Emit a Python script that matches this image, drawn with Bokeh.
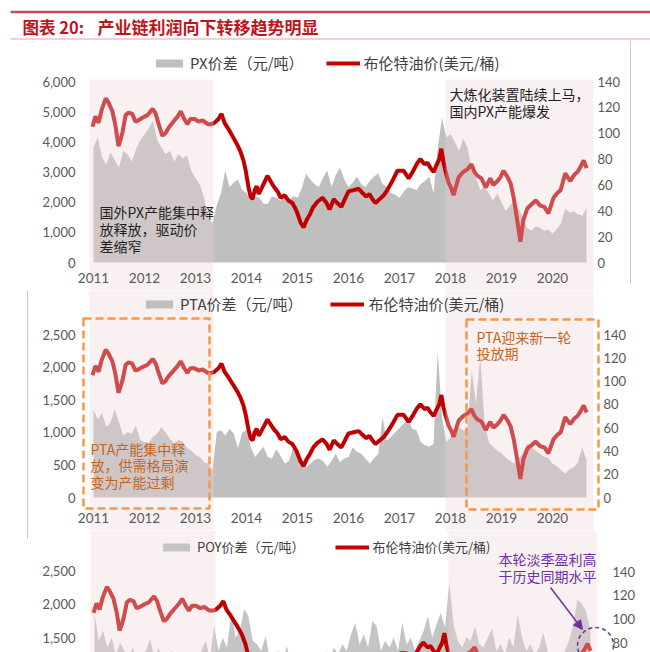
from bokeh.plotting import figure
from bokeh.layouts import column
from bokeh.models import Range1d, LinearAxis, FixedTicker, Legend, LegendItem, Arrow, NormalHead
from bokeh.core.properties import value
from bokeh.embed import file_html
from bokeh.resources import INLINE

# ---------------- data ----------------
year_labels = [2011, 2012, 2013, 2014, 2015, 2016, 2017, 2018, 2019, 2020]
month_t = [2011 + i / 12 for i in range(117)]  # monthly, 2011-01 .. 2020-09

px_spread = [3800, 4150, 3500, 3250, 3650, 3400, 3150, 3700, 3600, 3350, 3750, 4050,
             4250, 4450, 4700, 4050, 3800, 3600, 3700, 3350, 3600, 3450, 3550, 3050,
             2800, 2600, 2150, 1500, 1300, 1900, 2300, 3050, 2500, 2650, 2750, 2400,
             2300, 2050, 2200, 2150, 1950, 1950, 2200, 2150, 2050, 2250, 2050, 2200,
             2150, 2450, 2950, 2750, 2600, 2500, 2800, 3050, 2500, 2900, 3150, 2750,
             2500, 2650, 2850, 2600, 2500, 2700, 2850, 2950, 2600, 2500, 2300, 2250,
             2150, 2350, 2500, 2450, 2400, 2600, 2700, 2850, 2300, 3800, 4800, 4150,
             4250, 4000, 3700, 4100, 3800, 3100, 2800, 2400, 2500, 2300, 2050, 2300,
             2000, 1700, 1900, 2050, 1800, 1500, 1150, 1050, 1200, 1150, 1050, 1100,
             950, 1100, 1300, 1800, 1650, 1700, 1600, 1550, 1800]

pta_spread = [1350, 1200, 1300, 1080, 1150, 1350, 1150, 950, 1000, 980, 1100, 880,
              850, 840, 930, 980, 1080, 990, 900, 830, 880, 860, 760, 720,
              650, 620, 540, 520, 420, 1000, 1030, 950, 1050, 980, 760, 1000,
              1030, 780, 620, 700, 780, 620, 600, 740, 640, 520, 560, 770,
              650, 560, 460, 520, 580, 600, 560, 470, 560, 670, 540, 600,
              620, 770, 700, 670, 600, 520, 600, 670, 1230, 870, 930, 1000,
              1070, 1130, 1200, 1050, 1030, 850, 800, 780, 820, 2250, 1230, 850,
              920, 1000, 1070, 1030, 1050, 1950, 1450, 2150, 1150, 850, 780, 720,
              680, 610, 560, 520, 600, 670, 830, 780, 720, 670, 630, 610,
              520, 480, 420, 370, 430, 460, 540, 770, 570]

poy_spread = [1870, 1450, 1600, 1350, 1500, 1250, 1420, 1300, 1200, 1350, 1150, 1250,
              1300, 1480, 1200, 1350, 1100, 1250, 1300, 1150, 1200, 1000, 1150, 1250,
              1100, 1300, 1450, 1200, 1670, 1300, 1500, 1350, 1870, 1500, 1600, 1930,
              1820, 1450, 1400, 1300, 1520, 1200, 1250, 1300, 1150, 1370, 1100, 1000,
              1200, 1050, 1150, 1250, 1100, 1200, 1300, 1150, 1350, 1250, 1400, 1300,
              1550, 1720, 1400, 1550, 1350, 1750, 1670, 1300, 1450, 1350, 1500, 1300,
              1720, 1400, 1500, 1300, 1450, 1600, 1820, 1500, 1700, 1870, 1650, 2340,
              1700, 1450, 1350, 1500, 1450, 1670, 1400, 1350, 1500, 1630, 1300, 1400,
              1250, 1500, 1350, 1850, 1500, 1300, 1400, 1250, 1350, 1570, 1300, 1150,
              1200, 1100, 1300, 1450, 1700, 2070, 2000, 1900, 1600]

oil_t = [2010.98, 2011.04, 2011.10, 2011.16, 2011.24, 2011.29, 2011.37, 2011.43, 2011.49, 2011.53,
         2011.57, 2011.63, 2011.69, 2011.76, 2011.82, 2011.88, 2011.96, 2012.06, 2012.16, 2012.22,
         2012.27, 2012.35, 2012.41, 2012.47, 2012.57, 2012.65, 2012.71, 2012.78, 2012.84, 2012.90,
         2012.98, 2013.06, 2013.14, 2013.24, 2013.31, 2013.37, 2013.45, 2013.51, 2013.57, 2013.65,
         2013.75, 2013.82, 2013.88, 2013.94, 2013.98, 2014.04, 2014.08, 2014.12, 2014.16, 2014.20,
         2014.24, 2014.29, 2014.35, 2014.41, 2014.47, 2014.53, 2014.61, 2014.67, 2014.75, 2014.82,
         2014.90, 2014.98, 2015.06, 2015.12, 2015.18, 2015.24, 2015.31, 2015.39, 2015.49, 2015.57,
         2015.63, 2015.71, 2015.78, 2015.86, 2015.94, 2016.00, 2016.10, 2016.20, 2016.27, 2016.35,
         2016.41, 2016.47, 2016.53, 2016.61, 2016.69, 2016.76, 2016.86, 2016.96, 2017.08, 2017.18,
         2017.27, 2017.35, 2017.41, 2017.49, 2017.55, 2017.61, 2017.67, 2017.72, 2017.78, 2017.82,
         2017.86, 2017.90, 2017.96, 2018.02, 2018.06, 2018.16, 2018.25, 2018.33, 2018.41, 2018.47,
         2018.53, 2018.61, 2018.69, 2018.78, 2018.84, 2018.92, 2018.98, 2019.04, 2019.12, 2019.18,
         2019.24, 2019.31, 2019.37, 2019.43, 2019.51, 2019.59, 2019.67, 2019.76, 2019.84, 2019.92,
         2020.02, 2020.10, 2020.16, 2020.25, 2020.35, 2020.43, 2020.49, 2020.55, 2020.61, 2020.67]
oil_v = [105, 113, 108, 118, 127, 124, 117, 106, 90, 95,
         101, 114, 116, 115, 109, 110, 112, 114, 119, 115,
         108, 98, 100, 104, 109, 113, 117, 111, 107, 111,
         111, 109, 110, 107, 107, 108, 111, 115, 108, 103,
         96, 91, 86, 79, 72, 58, 51, 49, 56, 59,
         53, 57, 62, 67, 63, 59, 55, 50, 52, 48,
         46, 40, 31, 27, 33, 37, 43, 47, 50, 46,
         41, 49, 46, 43, 50, 55, 56, 57, 54, 51,
         53, 49, 46, 49, 52, 56, 63, 71, 71, 65,
         71, 77, 80, 76, 77, 73, 70, 75, 80, 88,
         78, 71, 62, 57, 52, 66, 70, 72, 76, 70,
         67, 65, 58, 65, 60, 63, 66, 71, 66, 61,
         50, 32, 16, 33, 42, 45, 48, 44, 43, 38,
         50, 54, 56, 69, 63, 68, 70, 74, 79, 73]

px_ticks = [0, 1000, 2000, 3000, 4000, 5000, 6000]
pta_ticks = [0, 500, 1000, 1500, 2000, 2500]
poy_ticks = [1500, 2000, 2500]
oil_ticks = [0, 20, 40, 60, 80, 100, 120, 140]

# ---------------- styling ----------------
W = 650
CJK = "Noto Sans CJK SC"
NUM = "Lato"
GRAY = "#bfbfbf"
RED = "#c00000"
PINK = "#eed8d8"
ORANGE = "#f79646"
BROWN = "#c0661e"
PURPLE = "#7030a0"
AX = "#595959"
EDGE = "#c8c8c8"


def xr(xpix, x0=93.0, ppy=51.0):
    return 2011 + (xpix - x0) / ppy


def yv(ypix, zero, per):
    return (zero - ypix) * per


def style_axis(ax, ticks, standoff):
    ax.ticker = FixedTicker(ticks=ticks)
    ax.major_label_overrides = {t: f"{t:,}" for t in ticks}
    ax.axis_line_color = None
    ax.major_tick_line_color = None
    ax.minor_tick_line_color = None
    ax.major_tick_out = 0
    ax.major_tick_in = 0
    ax.major_label_standoff = standoff
    ax.major_label_text_font = NUM
    ax.major_label_text_font_size = "13px"
    ax.major_label_text_color = AX


def make_panel(top, bot, zero_l, per_l, zero_r, per_r, right_x, x0, ppy,
               lticks, rticks, year_standoff=None):
    p = figure(width=W, height=bot - top, title=None,
               x_range=Range1d(xr(0, x0, ppy), xr(W, x0, ppy)),
               y_range=Range1d(yv(bot, zero_l, per_l), yv(top, zero_l, per_l)),
               output_backend="svg", toolbar_location=None,
               x_axis_location="below" if year_standoff is not None else None,
               min_border=0, min_border_left=0, min_border_right=0,
               min_border_top=0, min_border_bottom=0)
    p.extra_y_ranges = {"oil": Range1d(yv(bot, zero_r, per_r), yv(top, zero_r, per_r))}
    p.add_layout(LinearAxis(y_range_name="oil"), "right")
    left, right = p.yaxis[0], p.yaxis[1]
    style_axis(left, lticks, 5)
    left.fixed_location = xr(80, x0, ppy)
    style_axis(right, rticks, 4)
    right.fixed_location = xr(right_x, x0, ppy)
    if year_standoff is not None:
        xa = p.xaxis[0]
        style_axis(xa, year_labels, year_standoff)
        xa.major_label_overrides = {y: str(y) for y in year_labels}
        xa.major_label_text_font_size = "13.5px"
        xa.fixed_location = 0
    p.grid.visible = False
    p.outline_line_color = None
    p.background_fill_color = "white"
    p.border_fill_color = "white"
    return p


def add_legend(p, renderers, labels, loc, fs, spacing):
    leg = Legend(items=[LegendItem(label=l, renderers=[r]) for l, r in zip(labels, renderers)],
                 orientation="horizontal", location=loc, border_line_color=None,
                 background_fill_alpha=0, padding=0, margin=0, spacing=spacing,
                 glyph_width=34, glyph_height=10, label_standoff=4,
                 label_text_font=CJK, label_text_font_size=fs, label_text_color="#404040")
    p.add_layout(leg)


def note(p, xpix, ypix, zero, per, txt, color, lh, x0=93.0, ppy=51.0):
    p.text(x=[xr(xpix, x0, ppy)], y=[yv(ypix, zero, per)], text=[txt],
           text_baseline="top", text_font=value(CJK), text_font_size="14px",
           text_line_height=lh, text_color=color)


# ---------------- title ----------------
t = figure(width=W, height=46, title=None, x_range=Range1d(0, W), y_range=Range1d(46, 0),
           output_backend="svg", toolbar_location=None, x_axis_location=None,
           y_axis_location=None, min_border=0, min_border_left=0, min_border_right=0,
           min_border_top=0, min_border_bottom=0)
t.grid.visible = False
t.outline_line_color = None
t.segment(x0=[10], y0=[11.5], x1=[W], y1=[11.5], line_color="#c0504d", line_width=2.5)
t.segment(x0=[10], y0=[38.5], x1=[W], y1=[38.5], line_color="#e3a3a3", line_width=1)
t.segment(x0=[630], y0=[40], x1=[630], y1=[46], line_color=EDGE, line_width=1)
t.text(x=[22], y=[26], text=["图表 20:"], text_baseline="middle", text_font=value(CJK),
       text_font_size="16.5px", text_font_style="bold", text_color="#c0141c")
t.text(x=[97], y=[26], text=["产业链利润向下转移趋势明显"], text_baseline="middle",
       text_font=value(CJK), text_font_size="17px", text_font_style="bold", text_color="#c0141c")

# ---------------- panel 1: PX ----------------
Z1, L1, R1 = 262, 6000 / 181, 140 / 181
p1 = make_panel(46, 290, Z1, L1, Z1, R1, 593, 93, 51, px_ticks, oil_ticks, year_standoff=10)
a1 = p1.varea(x=month_t, y1=0, y2=px_spread, fill_color=GRAY)
l1 = p1.line(x=oil_t, y=oil_v, y_range_name="oil", line_color=RED, line_width=4)
p1.quad(left=[xr(89), xr(445)], right=[xr(213), xr(593)], bottom=yv(290, Z1, L1),
        top=yv(79, Z1, L1), fill_color=PINK, fill_alpha=0.35, line_color=None)
p1.segment(x0=[xr(630)], y0=[yv(46, Z1, L1)], x1=[xr(630)], y1=[yv(283, Z1, L1)],
           line_color=EDGE, line_width=1)
note(p1, 99, 201, Z1, L1, "国外PX产能集中释\n放释放，驱动价\n差缩窄", "#1f1f1f", 0.86)
note(p1, 449, 83, Z1, L1, "大炼化装置陆续上马，\n国内PX产能爆发", "#1f1f1f", 0.89)
add_legend(p1, [a1, l1], ["PX价差（元/吨）", "布伦特油价(美元/桶)"], (152, 217), "15px", 22)

# ---------------- panel 2: PTA ----------------
Z2, L2, R2 = 497, 2500 / 163, 140 / 163
p2 = make_panel(290, 530, Z2, L2, Z2, R2, 599, 93, 51, pta_ticks, oil_ticks, year_standoff=15)
a2 = p2.varea(x=month_t, y1=0, y2=pta_spread, fill_color=GRAY)
l2 = p2.line(x=oil_t, y=oil_v, y_range_name="oil", line_color=RED, line_width=4)
p2.quad(left=[xr(89), xr(445)], right=[xr(213), xr(593)], bottom=yv(530, Z2, L2),
        top=yv(290, Z2, L2), fill_color=PINK, fill_alpha=0.35, line_color=None)
p2.segment(x0=[xr(27)], y0=[yv(290, Z2, L2)], x1=[xr(27)], y1=[yv(530, Z2, L2)],
           line_color=EDGE, line_width=1)
p2.quad(left=[xr(83), xr(466)], right=[xr(209), xr(598)], bottom=[yv(508, Z2, L2), yv(509, Z2, L2)],
        top=[yv(318, Z2, L2), yv(319, Z2, L2)], fill_alpha=0, line_color=ORANGE,
        line_width=2.5, line_dash="8 4")
note(p2, 90, 438, Z2, L2, "PTA产能集中释\n放，供需格局演\n变为产能过剩", BROWN, 0.84)
note(p2, 476, 326, Z2, L2, "PTA迎来新一轮\n投放期", BROWN, 0.82)
add_legend(p2, [a2, l2], ["PTA价差（元/吨）", "布伦特油价(美元/桶)"], (142, 216), "15px", 28)

# ---------------- panel 3: POY ----------------
Z3, L3, R3 = 736.75, 1000 / 66.5, 140 / 165.75
X3, S3 = 94, 51.3
p3 = make_panel(530, 652, Z3, L3, Z3, R3, 608, X3, S3, poy_ticks, oil_ticks)
a3 = p3.varea(x=month_t, y1=0, y2=poy_spread, fill_color="#c4c4c4")
l3 = p3.line(x=oil_t, y=oil_v, y_range_name="oil", line_color=RED, line_width=4)
p3.quad(left=[xr(90, X3, S3), xr(448, X3, S3)], right=[xr(215, X3, S3), xr(596, X3, S3)],
        bottom=yv(652, Z3, L3), top=yv(530, Z3, L3), fill_color=PINK, fill_alpha=0.35,
        line_color=None)
p3.segment(x0=[xr(27, X3, S3)], y0=[yv(530, Z3, L3)], x1=[xr(27, X3, S3)], y1=[yv(538, Z3, L3)],
           line_color=EDGE, line_width=1)
note(p3, 498, 548, Z3, L3, "本轮淡季盈利高\n于历史同期水平", PURPLE, 0.89, X3, S3)
p3.add_layout(Arrow(end=NormalHead(size=9, fill_color=PURPLE, line_color=PURPLE),
                    x_start=xr(550, X3, S3), y_start=yv(587, Z3, L3),
                    x_end=xr(582, X3, S3), y_end=yv(629, Z3, L3),
                    line_color=PURPLE, line_width=1.5))
p3.scatter(x=[xr(595, X3, S3)], y=[yv(645, Z3, L3)], marker="circle", size=36,
           fill_alpha=0, line_color=PURPLE, line_width=1.5, line_dash="4 3")
add_legend(p3, [a3, l3], ["POY价差（元/吨）", "布伦特油价(美元/桶)"], (159, 96), "13px", 30)

layout = column(t, p1, p2, p3, spacing=0)
open("out.html", "w").write(file_html(layout, INLINE))
